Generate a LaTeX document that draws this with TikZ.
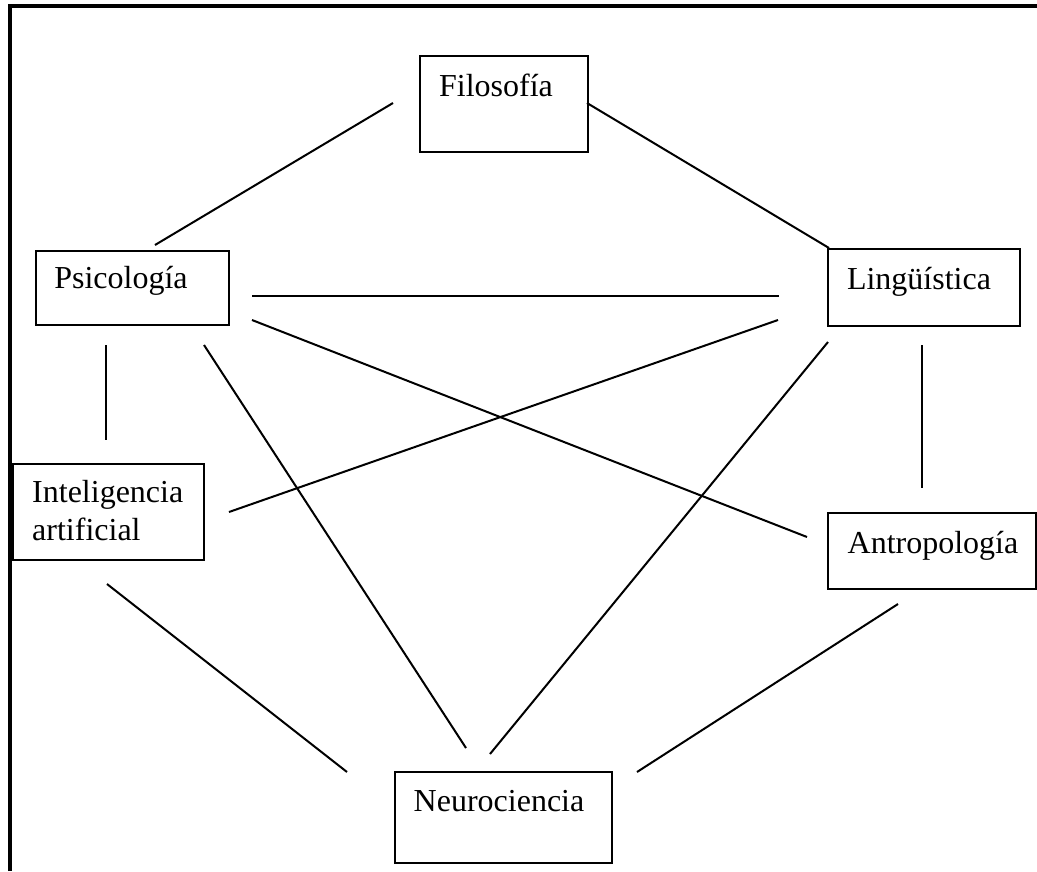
\documentclass[tikz,border=0pt]{standalone}
\usepackage{fontspec}
\setmainfont{Liberation Serif}
\begin{document}
\begin{tikzpicture}[x=1pt,y=-1pt,
  box/.style={draw, line width=2.2pt, rectangle, inner sep=0pt, anchor=north west},
  txt/.style={inner sep=0pt, anchor=base, font=\fontsize{32}{38}\selectfont},
  link/.style={line width=2pt}]
\useasboundingbox (0,0) rectangle (1037,871);
\draw[line width=3.2pt] (10,871) -- (10,6) -- (1037,6);
% boxes
\node[box, minimum width=168pt, minimum height=96pt] (filo) at (419,55) {};
\node[box, minimum width=193pt, minimum height=74pt] (psi) at (35,250) {};
\node[box, minimum width=192pt, minimum height=77pt] (ling) at (827,248) {};
\node[box, minimum width=191pt, minimum height=96pt] (ia) at (12,463) {};
\node[box, minimum width=208pt, minimum height=76pt] (antro) at (827,512) {};
\node[box, minimum width=217pt, minimum height=91pt] (neuro) at (394,771) {};
% texts
\node[txt] (tfilo) at (496,96) {Filosofía};
\node[txt] (tpsi) at (121,288) {Psicología};
\node[txt] (tling) at (919,289) {Lingüística};
\node[txt, anchor=base west] (tia1) at (32,502) {Inteligencia};
\node[txt, anchor=base west] (tia2) at (32,540) {artificial};
\node[txt] (tantro) at (933,553) {Antropología};
\node[txt] (tneuro) at (499,811) {Neurociencia};
% connector end points
\coordinate (a1) at (393,103); \coordinate (a2) at (155,245);
\coordinate (b1) at (587,103); \coordinate (b2) at (829,248);
\coordinate (c1) at (252,296); \coordinate (c2) at (779,296);
\coordinate (d1) at (252,320); \coordinate (d2) at (807,537);
\coordinate (e1) at (778,320); \coordinate (e2) at (229,512);
\coordinate (f1) at (106,345); \coordinate (f2) at (106,440);
\coordinate (g1) at (204,345); \coordinate (g2) at (466,748);
\coordinate (h1) at (828,342); \coordinate (h2) at (490,754);
\coordinate (i1) at (922,345); \coordinate (i2) at (922,488);
\coordinate (j1) at (107,584); \coordinate (j2) at (347,772);
\coordinate (k1) at (898,604); \coordinate (k2) at (637,772);
\draw[link] (a1) -- (a2);
\draw[link] (b1) -- (b2);
\draw[link] (c1) -- (c2);
\draw[link] (d1) -- (d2);
\draw[link] (e1) -- (e2);
\draw[link] (f1) -- (f2);
\draw[link] (g1) -- (g2);
\draw[link] (h1) -- (h2);
\draw[link] (i1) -- (i2);
\draw[link] (j1) -- (j2);
\draw[link] (k1) -- (k2);
\end{tikzpicture}
\end{document}
